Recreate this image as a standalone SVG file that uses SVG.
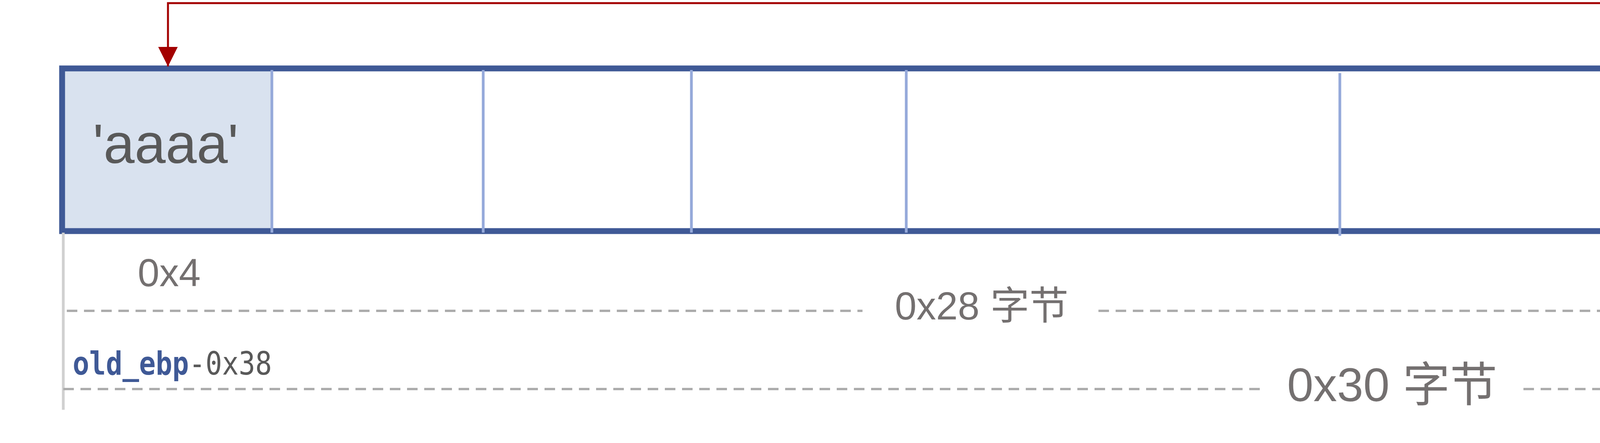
<svg xmlns="http://www.w3.org/2000/svg" width="6850" height="1133" viewBox="0 0 6850 1133">
<defs>
<style>
.frame{fill:none;stroke:#3F5996;stroke-width:15}
.div{stroke:#95A9DA;stroke-width:7}
.guide{stroke:#D0D0D0;stroke-width:7}
.dash{stroke:#ACACAC;stroke-width:6;stroke-dasharray:27 17;fill:none}
.sans{font-family:"Liberation Sans","Noto Sans CJK SC",sans-serif}
.mono{font-family:"DejaVu Sans Mono","Liberation Mono",monospace}
.dark{fill:#595959}
.gray{fill:#747070}
.blue{fill:#3F5996;font-weight:bold}
.link{fill:none;stroke:#A30000;stroke-width:5}
</style>
<marker id="arrow" markerUnits="userSpaceOnUse" markerWidth="50" markerHeight="50" refX="50" refY="25" orient="auto" viewBox="0 0 50 50">
<path d="M0,0 L50,25 L0,50 Z" fill="#A30000"/>
</marker>
<clipPath id="retclip"><rect x="6254" y="182" width="522" height="402"/></clipPath>
</defs>
<rect width="6850" height="1133" fill="#FFFFFF"/>
<g id="cells">
<g id="cell-aaaa">
<rect x="166" y="182" width="527" height="402" fill="#D9E2EF"/>
<text class="sans dark" x="424" y="417" font-size="143" text-anchor="middle">'aaaa'</text>
</g>
<g id="cell-old-ebp">
<rect x="5712" y="182" width="542" height="402" fill="#D6DFEE"/>
<text class="mono blue" x="5964" y="357" font-size="106" text-anchor="middle" textLength="420" lengthAdjust="spacingAndGlyphs">old_ebp</text>
<text class="mono dark" x="5965" y="508" font-size="106" text-anchor="middle" textLength="363" lengthAdjust="spacingAndGlyphs">- 0x38</text>
</g>
<g id="cell-ret">
<rect x="6254" y="182" width="522" height="402" fill="#D6DFEE"/>
<text class="mono blue" x="6272" y="325" font-size="101" clip-path="url(#retclip)">leave ret</text>
<text class="sans dark" x="6530" y="491" font-size="126" text-anchor="middle">addr</text>
</g>
<g id="frame">
<rect class="frame" x="159" y="175" width="6624" height="416"/>
</g>
<g id="dividers">
<line class="div" x1="696" y1="179" x2="696" y2="595"/>
<line class="div" x1="1237" y1="179" x2="1237" y2="595"/>
<line class="div" x1="1770" y1="179" x2="1770" y2="595"/>
<line class="div" x1="2320" y1="179" x2="2320" y2="595"/>
<line class="div" x1="3430" y1="187" x2="3430" y2="603"/>
<line class="div" x1="5712" y1="178" x2="5712" y2="580"/>
<line class="div" x1="6254" y1="178" x2="6254" y2="595"/>
</g>
</g>
<g id="measures">
<line class="guide" x1="162" y1="595" x2="162" y2="1048"/>
<line class="guide" x1="5712" y1="579" x2="5712" y2="893"/>
<line class="guide" x1="6787" y1="595" x2="6787" y2="1049"/>
<g id="size-labels">
<text class="sans gray" x="433" y="732" font-size="100" text-anchor="middle">0x4</text>
<text class="sans gray" x="5980" y="725" font-size="100" text-anchor="middle">0x4</text>
<text class="sans gray" x="6523" y="733" font-size="100" text-anchor="middle">0x4</text>
</g>
<g id="span-0x28">
<line class="dash" x1="171" y1="795" x2="2208" y2="795"/>
<line class="dash" x1="2812" y1="795" x2="5708" y2="795"/>
<text class="sans gray" x="2513" y="817" font-size="100" text-anchor="middle">0x28 字节</text>
</g>
<g id="span-0x30">
<line class="dash" x1="162" y1="995" x2="3233" y2="995"/>
<line class="dash" x1="3900" y1="995" x2="6791" y2="995"/>
<text class="sans gray" x="3564" y="1026" font-size="121" text-anchor="middle">0x30 字节</text>
</g>
<g id="label-old-ebp">
<text class="mono" x="186" y="958" font-size="82" textLength="510" lengthAdjust="spacingAndGlyphs"><tspan class="blue">old_ebp</tspan><tspan class="dark">-0x38</tspan></text>
</g>
</g>
<g id="connectors">
<path class="link" d="M5993,178 L5993,8 L430,8 L430,170" marker-end="url(#arrow)"/>
</g>
</svg>
